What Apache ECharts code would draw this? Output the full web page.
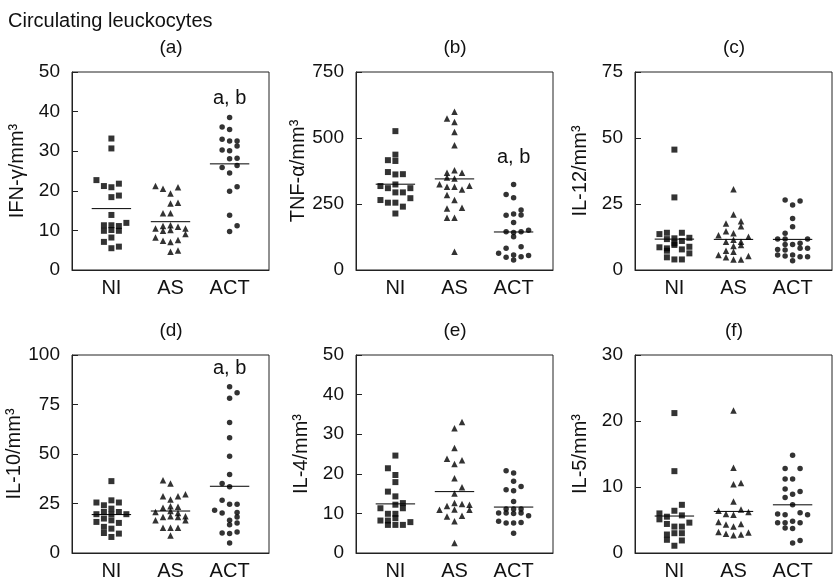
<!DOCTYPE html>
<html>
<head>
<meta charset="utf-8">
<script src="https://cdn.jsdelivr.net/npm/echarts@6/dist/echarts.min.js"></script>
<style>
  html, body { margin: 0; padding: 0; background: #fff; }
  #chart { width: 836px; height: 583px; }
</style>
</head>
<body>
<div id="chart"></div>
<script>
// group labels and panel texts
const groups = ['NI', 'AS', 'ACT'];
const panelTags = ['(a)', '(b)', '(c)', '(d)', '(e)', '(f)'];
const yNames = ['IFN-γ/mm³', 'TNF-α/mm³', 'IL-12/mm³', 'IL-10/mm³', 'IL-4/mm³', 'IL-5/mm³'];
const yMax = [50, 750, 75, 100, 50, 30];
const yStep = [10, 250, 25, 25, 10, 10];

// each point: [value, column step of the dot inside its group]
// (a) IFN-gamma
const ifnNI = [[33.2,0],[30.7,0],[22.7,-2],[21.2,-1],[20.9,0],[21.8,1],[18.4,0],[18.8,1],[13.9,0],[11.3,-1],[11.3,0],[11.1,1],[11.9,2],[9.9,-1],[10.1,0],[9.9,1],[8.2,0],[7.1,-1],[5.5,0],[5.9,1]];
const ifnAS = [[21.2,-2],[20.5,-1],[19.3,0],[20.9,1],[16.8,0],[17.0,1],[14.3,-1],[14.3,0],[11.1,-1],[11.3,0],[10.9,1],[10.5,-2],[9.9,-1],[10.1,0],[10.5,2],[9.1,2],[8.2,-2],[7.4,-1],[7.1,0],[7.6,1],[4.6,0],[4.9,1]];
const ifnACT = [[38.5,0],[36.1,-1],[35.5,0],[33.0,-1],[32.6,0],[32.6,1],[31.3,1],[30.3,-1],[30.1,0],[28.1,0],[28.2,1],[25.9,-1],[26.4,1],[24.5,0],[21.0,1],[19.9,0],[13.8,0],[11.2,1],[9.7,0]];
const ifnMed = [15.5, 12.2, 26.8];

// (b) TNF-alpha
const tnfNI = [[526,0],[437,0],[416,-1],[413,0],[371,-1],[362,0],[363,1],[318,-2],[310,-1],[324,0],[310,2],[294,0],[294,1],[265,-2],[255,-1],[255,0],[272,2],[240,1],[214,0]];
const tnfAS = [[599,0],[574,-1],[561,0],[523,0],[473,0],[378,0],[368,-1],[368,1],[350,-1],[347,0],[325,-2],[315,-1],[315,0],[305,1],[319,2],[284,-1],[265,0],[233,-1],[236,1],[198,-1],[198,0],[69,0]];
const tnfACT = [[324,0],[286,-1],[274,0],[207,-1],[212,0],[227,1],[208,1],[180,0],[145,-1],[142,0],[145,1],[151,2],[126,0],[63,-2],[82,-1],[88,1],[57,0],[48,-1],[50,1],[55,2],[38,0]];
const tnfMed = [325, 345, 144];

// (c) IL-12
const il12NI = [[45.6,0],[27.5,0],[13.6,-2],[14.1,-1],[14.1,1],[11.7,-1],[12.0,0],[12.2,2],[10.1,0],[11.0,1],[8.6,-2],[8.2,-1],[7.8,1],[8.8,2],[7.3,-1],[6.3,2],[4.8,-1],[4.0,0],[4.0,1],[9.5,0]];
const il12AS = [[30.6,0],[21.0,0],[17.6,-1],[18.5,1],[16.6,1],[14.7,-1],[13.9,0],[13.2,-2],[12.6,2],[10.7,-1],[10.7,1],[9.1,0],[9.5,1],[7.3,-1],[6.9,0],[5.7,-2],[5.3,2],[4.8,-1],[4.0,0],[4.0,1],[11.5,0]];
const il12ACT = [[26.5,-1],[24.6,0],[26.1,1],[19.5,0],[16.4,0],[13.9,-1],[11.7,-2],[11.7,-1],[11.7,2],[9.7,-1],[9.7,0],[10.1,1],[7.8,-2],[7.6,-1],[8.2,1],[8.2,2],[5.7,-2],[5.3,-1],[5.7,0],[5.0,1],[5.0,2],[3.5,0]];
const il12Med = [11.7, 11.6, 11.6];

// (d) IL-10
const il10NI = [[36.3,0],[26.6,0],[25.5,-2],[24.1,-1],[25.5,1],[22.4,0],[19.6,-2],[20.7,-1],[19.6,0],[20.7,1],[19.6,2],[15.7,-2],[17.4,-1],[16.5,0],[15.2,1],[13.2,-1],[12.3,0],[10.1,-1],[9.8,1],[8.1,0]];
const il10AS = [[36.8,-1],[35.1,0],[28.7,-1],[27.0,0],[28.7,1],[29.7,2],[23.6,0],[22.8,-1],[23.3,1],[20.7,-2],[21.2,0],[20.2,1],[16.5,-2],[18.2,-1],[18.5,0],[18.2,1],[16.5,2],[18.5,2],[12.8,-1],[12.8,0],[12.8,1],[8.8,0]];
const il10ACT = [[84.0,0],[80.9,1],[78.1,0],[65.9,0],[58.2,0],[48.9,0],[39.6,0],[35.1,-1],[33.4,0],[26.6,-1],[21.6,-2],[20.2,-1],[24.6,0],[24.6,1],[20.4,1],[16.5,0],[18.2,1],[14.3,0],[15.2,1],[10.1,-1],[9.8,0],[10.6,1],[5.1,0]];
const il10Med = [19.4, 21.2, 33.7];

// (e) IL-4
const il4NI = [[24.6,0],[21.4,-1],[19.7,0],[17.9,0],[15.5,-1],[14.3,0],[11.3,-2],[12.2,0],[12.6,1],[9.9,-1],[9.9,0],[11.3,1],[8.2,-2],[8.2,-1],[8.8,0],[7.8,2],[7.1,-1],[7.1,0],[7.1,1]];
const il4AS = [[33.1,1],[31.5,0],[26.5,0],[23.8,-1],[23.4,1],[22.5,0],[18.9,0],[16.6,1],[15.0,0],[12.6,0],[12.4,1],[11.9,-1],[10.9,-2],[12.2,2],[10.9,2],[9.2,-1],[9.4,1],[8.0,0],[2.5,0],[11.0,0]];
const il4ACT = [[20.8,-1],[20.2,0],[18.1,0],[16.0,-1],[15.7,0],[16.8,1],[13.0,0],[11.1,-1],[11.1,0],[11.1,1],[10.1,-2],[10.1,-1],[10.1,1],[9.4,2],[8.0,-2],[7.6,-1],[7.6,0],[7.7,1],[5.0,0],[10.0,0]];
const il4Med = [12.4, 15.5, 11.6];

// (f) IL-5
const il5NI = [[21.2,0],[12.4,0],[7.3,1],[6.0,-2],[5.5,-1],[6.4,0],[5.7,1],[5.1,-2],[4.4,-1],[4.6,2],[4.0,0],[4.0,1],[2.8,-1],[2.0,-1],[3.0,0],[3.0,1],[1.9,1],[1.1,0]];
const il5AS = [[21.6,0],[12.9,0],[10.6,1],[10.4,0],[7.8,0],[6.4,-2],[5.9,-1],[5.8,0],[6.6,1],[6.2,2],[4.7,-2],[4.3,-1],[4.0,0],[4.4,1],[3.2,-2],[2.9,-1],[2.7,0],[2.8,1],[3.1,2]];
const il5ACT = [[14.8,0],[12.8,-1],[12.8,1],[11.2,-1],[11.2,0],[9.7,-1],[9.3,1],[8.4,-1],[8.9,0],[7.3,0],[5.9,-2],[5.8,-1],[6.1,1],[5.8,2],[4.6,-2],[4.6,-1],[4.6,1],[4.8,0],[3.8,-1],[3.7,0],[1.5,0],[1.9,1]];
const il5Med = [5.6, 6.3, 7.3];

// significance marks: [panel index, y value]
const sigMarks = [[0, 43.4], [1, 428], [3, 93.4]];

const panels = [
  [ifnNI, ifnAS, ifnACT, ifnMed],
  [tnfNI, tnfAS, tnfACT, tnfMed],
  [il12NI, il12AS, il12ACT, il12Med],
  [il10NI, il10AS, il10ACT, il10Med],
  [il4NI, il4AS, il4ACT, il4Med],
  [il5NI, il5AS, il5ACT, il5Med]
];

const FONT = '"Liberation Sans", Arial, sans-serif';
const INK = '#111';
const centers = [2, 5, 8];   // group positions on the 0..10 x scale
const stepW = 0.38;          // width of one jitter column
const symbols = ['rect', 'triangle', 'circle'];
const symSizes = [6, 6.5, 5.5];

const lefts = [72, 356, 635];
const tops = [72, 355];

const grids = [], xAxes = [], yAxes = [], series = [], graphics = [];

panels.forEach((p, i) => {
  const left = lefts[i % 3], top = tops[Math.floor(i / 3)];
  grids.push({
    left: left, top: top, width: 197, height: 198,
    show: true, borderColor: '#222', borderWidth: 1, backgroundColor: 'transparent'
  });
  xAxes.push({
    gridIndex: i, type: 'value', min: 0, max: 10, interval: 1,
    axisLine: { show: true, lineStyle: { color: '#222', width: 1 } },
    axisTick: { show: false },
    splitLine: { show: false },
    axisLabel: {
      margin: 8, color: INK, fontFamily: FONT, fontSize: 20,
      formatter: v => (centers.indexOf(v) >= 0 ? groups[centers.indexOf(v)] : '')
    }
  });
  yAxes.push({
    gridIndex: i, type: 'value', min: 0, max: yMax[i], interval: yStep[i],
    name: yNames[i], nameLocation: 'middle', nameGap: 45,
    nameTextStyle: { color: INK, fontFamily: FONT, fontSize: 20 },
    axisLine: { show: true, lineStyle: { color: '#222', width: 1 } },
    axisTick: { show: true, inside: true, length: 6, lineStyle: { color: '#222' } },
    splitLine: { show: false },
    axisLabel: { margin: 12, color: INK, fontFamily: FONT, fontSize: 19 }
  });

  for (let g = 0; g < 3; g++) {
    const s = {
      type: 'scatter', xAxisIndex: i, yAxisIndex: i,
      symbol: symbols[g], symbolSize: symSizes[g],
      itemStyle: { color: '#000' },
      silent: true,
      data: p[g].map(d => [centers[g] + d[1] * stepW, d[0]])
    };
    const mk = sigMarks.filter(m => m[0] === i);
    if (g === 2 && mk.length) {
      s.markPoint = {
        symbol: 'circle', symbolSize: 0, silent: true,
        label: { show: true, position: 'inside', formatter: 'a, b', color: INK, fontFamily: FONT, fontSize: 20 },
        data: mk.map(m => ({ coord: [centers[2], m[1]] }))
      };
    }
    series.push(s);
    // median line
    series.push({
      type: 'line', xAxisIndex: i, yAxisIndex: i,
      symbol: 'none', silent: true,
      lineStyle: { color: '#000', width: 1 },
      data: [[centers[g] - 1, p[3][g]], [centers[g] + 1, p[3][g]]]
    });
  }

  graphics.push({
    type: 'text', x: left + 99, y: top - 24,
    style: { text: panelTags[i], fill: INK, font: '19px ' + FONT, textAlign: 'center', textVerticalAlign: 'middle' }
  });
});

graphics.push({
  type: 'text', x: 8, y: 21,
  style: { text: 'Circulating leuckocytes', fill: INK, font: '20px ' + FONT, textAlign: 'left', textVerticalAlign: 'middle' }
});

const chart = echarts.init(document.getElementById('chart'), null, { renderer: 'canvas' });
chart.setOption({
  animation: false,
  backgroundColor: '#fff',
  grid: grids,
  xAxis: xAxes,
  yAxis: yAxes,
  series: series,
  graphic: graphics
});
</script>
</body>
</html>
